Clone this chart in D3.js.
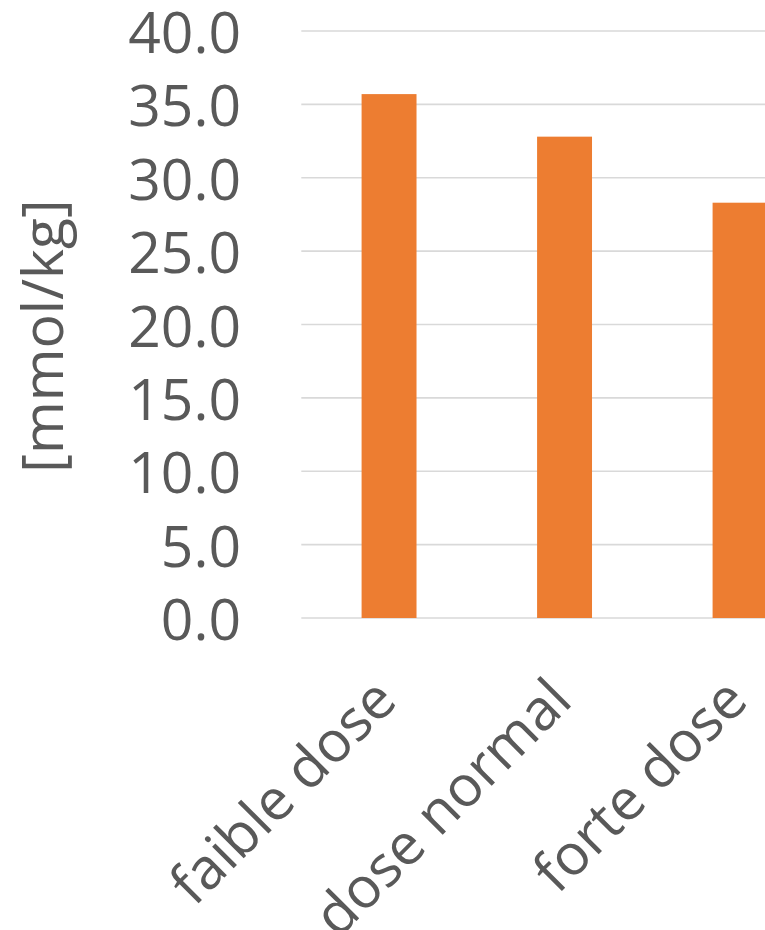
<!DOCTYPE html>
<html>
<head>
<meta charset="utf-8">
<script src="https://cdn.jsdelivr.net/npm/d3@7"></script>
<style>
  html, body { margin: 0; padding: 0; background: #fff; }
  svg { display: block; }
  text { font-family: "Open Sans", "Noto Sans", sans-serif; fill: #595959; }
</style>
</head>
<body>
<svg id="chart" width="765" height="930"></svg>
<script>
// ---- data ----
const categories = ["faible dose", "dose normal", "forte dose", "témoin"];
const values = [35.7, 32.8, 28.3];
const yTicks = [0, 5, 10, 15, 20, 25, 30, 35, 40];
const yTitle = "[mmol/kg]";

// ---- layout ----
const plotLeft = 301.3, step = 175.5;
const plotTop = 31, plotBottom = 618;

const svg = d3.select("#chart");
const g = svg.append("g");

const x = d3.scaleBand()
  .domain(categories)
  .range([plotLeft, plotLeft + step * categories.length])
  .paddingInner(0.687)
  .paddingOuter(0.687 / 2);

const y = d3.scaleLinear().domain([0, 40]).range([plotBottom, plotTop]);

// gridlines
g.append("g").selectAll("line").data(yTicks).join("line")
  .attr("x1", plotLeft)
  .attr("x2", plotLeft + step * categories.length)
  .attr("y1", d => y(d)).attr("y2", d => y(d))
  .attr("stroke", "#d9d9d9").attr("stroke-width", 1.6);

// bars
g.append("g").selectAll("rect").data(values).join("rect")
  .attr("x", (d, i) => x(categories[i]))
  .attr("width", x.bandwidth())
  .attr("y", d => y(d))
  .attr("height", d => y(0) - y(d))
  .attr("fill", "#ed7d31");

// y tick labels
g.append("g").selectAll("text").data(yTicks).join("text")
  .attr("x", 241)
  .attr("y", d => y(d))
  .attr("text-anchor", "end")
  .attr("dominant-baseline", "central")
  .style("font-size", "57px")
  .text(d => d3.format(".1f")(d));

// y title
g.append("text")
  .attr("transform", `translate(41,336) rotate(-90)`)
  .attr("text-anchor", "middle")
  .attr("dominant-baseline", "central")
  .style("font-size", "57px")
  .text(yTitle);

// category labels
g.append("g").selectAll("text").data(categories).join("text")
  .attr("transform", d => `translate(${x(d) + x.bandwidth() / 2 + 10},703) rotate(-45)`)
  .attr("text-anchor", "end")
  .style("font-size", "57px")
  .text(d => d);
</script>
</body>
</html>
